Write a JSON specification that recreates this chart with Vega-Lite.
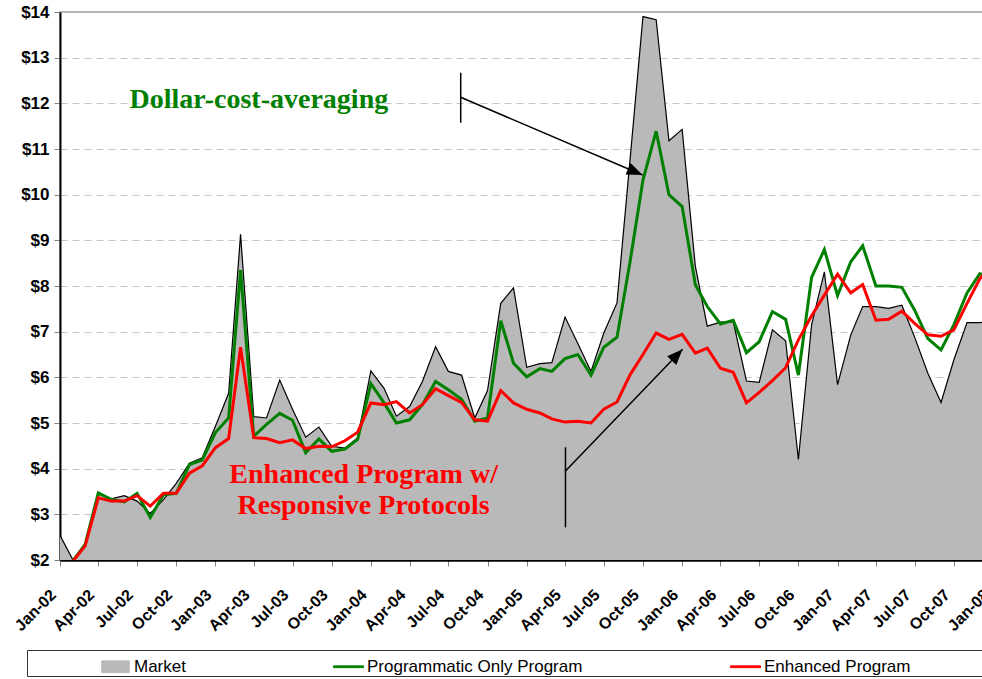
{
  "$schema": "https://vega.github.io/schema/vega-lite/v6.json",
  "width": 933,
  "height": 548,
  "autosize": {"type": "none"},
  "padding": {"left": 60, "top": 12, "right": -11, "bottom": 119},
  "background": "white",
  "config": {
    "view": {"stroke": "#a0a0a0", "strokeWidth": 1.5},
    "axisX": {
      "title": null, "grid": false, "zindex": 1,
      "domainColor": "#000000", "domainWidth": 2.5,
      "tickColor": "#808080", "tickSize": 6, "tickWidth": 1,
      "labelFont": "Liberation Sans", "labelFontSize": 16, "labelFontWeight": "bold", "labelColor": "#000000",
      "labelAngle": -45, "labelAlign": "right", "labelBaseline": "middle",
      "labelPadding": 26, "labelOffset": -7, "labelOverlap": false, "labelFlush": false, "labelBound": false
    },
    "axisY": {
      "title": null, "grid": true, "zindex": 0,
      "gridColor": "#c4c4c4", "gridDash": [7, 5], "gridWidth": 1,
      "domainColor": "#000000", "domainWidth": 2,
      "tickColor": "#808080", "tickSize": 6, "tickWidth": 1,
      "labelFont": "Liberation Sans", "labelFontSize": 17, "labelFontWeight": "bold", "labelColor": "#000000",
      "labelPadding": 5, "labelOverlap": false, "labelFlush": false
    }
  },
  "datasets": {
    "prices": [
      {"date":"2002-01-01","market":2.54,"prog":null,"enh":null},
      {"date":"2002-02-01","market":1.99,"prog":1.99,"enh":1.98},
      {"date":"2002-03-01","market":2.36,"prog":2.34,"enh":2.31},
      {"date":"2002-04-01","market":3.45,"prog":3.47,"enh":3.36},
      {"date":"2002-05-01","market":3.34,"prog":3.33,"enh":3.29},
      {"date":"2002-06-01","market":3.41,"prog":3.27,"enh":3.29},
      {"date":"2002-07-01","market":3.29,"prog":3.46,"enh":3.41},
      {"date":"2002-08-01","market":3.02,"prog":2.93,"enh":3.18},
      {"date":"2002-09-01","market":3.32,"prog":3.43,"enh":3.46},
      {"date":"2002-10-01","market":3.68,"prog":3.46,"enh":3.46},
      {"date":"2002-11-01","market":4.12,"prog":4.09,"enh":3.9},
      {"date":"2002-12-01","market":4.24,"prog":4.19,"enh":4.06},
      {"date":"2003-01-01","market":4.93,"prog":4.79,"enh":4.46},
      {"date":"2003-02-01","market":5.65,"prog":5.11,"enh":4.66},
      {"date":"2003-03-01","market":9.13,"prog":8.35,"enh":6.66},
      {"date":"2003-04-01","market":5.14,"prog":4.71,"enh":4.68},
      {"date":"2003-05-01","market":5.11,"prog":4.97,"enh":4.66},
      {"date":"2003-06-01","market":5.94,"prog":5.21,"enh":4.57},
      {"date":"2003-07-01","market":5.3,"prog":5.06,"enh":4.63},
      {"date":"2003-08-01","market":4.69,"prog":4.35,"enh":4.44},
      {"date":"2003-09-01","market":4.91,"prog":4.65,"enh":4.49},
      {"date":"2003-10-01","market":4.49,"prog":4.38,"enh":4.48},
      {"date":"2003-11-01","market":4.45,"prog":4.43,"enh":4.61},
      {"date":"2003-12-01","market":4.68,"prog":4.64,"enh":4.8},
      {"date":"2004-01-01","market":6.14,"prog":5.86,"enh":5.44},
      {"date":"2004-02-01","market":5.76,"prog":5.44,"enh":5.4},
      {"date":"2004-03-01","market":5.15,"prog":5.0,"enh":5.47},
      {"date":"2004-04-01","market":5.36,"prog":5.07,"enh":5.22},
      {"date":"2004-05-01","market":5.91,"prog":5.4,"enh":5.4},
      {"date":"2004-06-01","market":6.67,"prog":5.91,"enh":5.75},
      {"date":"2004-07-01","market":6.13,"prog":5.73,"enh":5.6},
      {"date":"2004-08-01","market":6.05,"prog":5.52,"enh":5.45},
      {"date":"2004-09-01","market":5.11,"prog":5.04,"enh":5.07},
      {"date":"2004-10-01","market":5.71,"prog":5.11,"enh":5.04},
      {"date":"2004-11-01","market":7.62,"prog":7.24,"enh":5.71},
      {"date":"2004-12-01","market":7.96,"prog":6.31,"enh":5.44},
      {"date":"2005-01-01","market":6.22,"prog":6.01,"enh":5.3},
      {"date":"2005-02-01","market":6.3,"prog":6.19,"enh":5.22},
      {"date":"2005-03-01","market":6.32,"prog":6.13,"enh":5.09},
      {"date":"2005-04-01","market":7.32,"prog":6.41,"enh":5.02},
      {"date":"2005-05-01","market":6.74,"prog":6.5,"enh":5.04},
      {"date":"2005-06-01","market":6.13,"prog":6.05,"enh":5.0},
      {"date":"2005-07-01","market":6.97,"prog":6.66,"enh":5.3},
      {"date":"2005-08-01","market":7.63,"prog":6.88,"enh":5.46},
      {"date":"2005-09-01","market":10.8,"prog":8.55,"enh":6.06},
      {"date":"2005-10-01","market":13.9,"prog":10.32,"enh":6.5},
      {"date":"2005-11-01","market":13.83,"prog":11.39,"enh":6.97},
      {"date":"2005-12-01","market":11.18,"prog":10.0,"enh":6.83},
      {"date":"2006-01-01","market":11.43,"prog":9.74,"enh":6.94},
      {"date":"2006-02-01","market":8.43,"prog":8.03,"enh":6.53},
      {"date":"2006-03-01","market":7.12,"prog":7.55,"enh":6.64},
      {"date":"2006-04-01","market":7.21,"prog":7.17,"enh":6.2},
      {"date":"2006-05-01","market":7.22,"prog":7.25,"enh":6.11},
      {"date":"2006-06-01","market":5.92,"prog":6.54,"enh":5.44},
      {"date":"2006-07-01","market":5.89,"prog":6.78,"enh":5.67},
      {"date":"2006-08-01","market":7.04,"prog":7.44,"enh":5.93},
      {"date":"2006-09-01","market":6.8,"prog":7.27,"enh":6.21},
      {"date":"2006-10-01","market":4.2,"prog":6.05,"enh":6.82},
      {"date":"2006-11-01","market":7.15,"prog":8.19,"enh":7.35},
      {"date":"2006-12-01","market":8.31,"prog":8.8,"enh":7.8},
      {"date":"2007-01-01","market":5.84,"prog":7.79,"enh":8.26},
      {"date":"2007-02-01","market":6.93,"prog":8.53,"enh":7.85},
      {"date":"2007-03-01","market":7.55,"prog":8.88,"enh":8.03},
      {"date":"2007-04-01","market":7.55,"prog":8.0,"enh":7.25},
      {"date":"2007-05-01","market":7.51,"prog":8.0,"enh":7.27},
      {"date":"2007-06-01","market":7.58,"prog":7.97,"enh":7.45},
      {"date":"2007-07-01","market":6.88,"prog":7.47,"enh":7.18},
      {"date":"2007-08-01","market":6.09,"prog":6.85,"enh":6.93},
      {"date":"2007-09-01","market":5.45,"prog":6.6,"enh":6.9},
      {"date":"2007-10-01","market":6.38,"prog":7.15,"enh":7.04},
      {"date":"2007-11-01","market":7.2,"prog":7.85,"enh":7.62},
      {"date":"2007-12-01","market":7.2,"prog":8.27,"enh":8.16},
      {"date":"2008-01-01","market":7.22,"prog":8.2,"enh":8.45}
    ],
    "rules": [
      {"x":"2004-07-30","y":12.671,"x2":"2004-07-30","y2":11.576},
      {"x":"2004-07-30","y":12.132,"x2":"2005-09-30","y2":10.431},
      {"x":"2005-04-02","y":4.468,"x2":"2005-04-02","y2":2.716},
      {"x":"2005-04-02","y":3.949,"x2":"2006-01-02","y2":6.614}
    ],
    "head1": [{"x":"2005-09-30","y":10.431}],
    "head2": [{"x":"2006-01-02","y":6.614}],
    "greenText": [{"x":"2003-04-13","y":11.891,"label":"Dollar-cost-averaging"}],
    "redText": [
      {"x":"2003-12-15","y":3.693,"label":"Enhanced Program w/"},
      {"x":"2003-12-15","y":3.007,"label":"Responsive Protocols"}
    ]
  },
  "layer": [
    {
      "data": {"name": "prices"},
      "mark": {"type": "area", "clip": true, "interpolate": "linear"},
      "encoding": {
        "x": {"field": "date", "type": "temporal", "title": null,
          "scale": {"type": "utc", "domain": [{"year": 2002, "month": 1, "date": 1, "utc": true}, {"year": 2008, "month": 1, "date": 1, "utc": true}], "nice": false},
          "axis": {"labelExpr": "utcFormat(datum.value, '%b-%y')", "tickCount": {"interval": "month", "step": 3}}},
        "y": {"field": "market", "type": "quantitative", "title": null,
          "scale": {"domain": [2, 14], "nice": false, "zero": false},
          "axis": {"values": [2,3,4,5,6,7,8,9,10,11,12,13,14], "format": "$.0f",
            "gridOpacity": {"condition": {"test": "datum.value === 14 || datum.value === 2", "value": 0}, "value": 1}}},
        "color": {"datum": "Market", "type": "nominal",
          "scale": {"domain": ["Market", "Programmatic Only Program", "Enhanced Program"], "range": ["#b9b9b9", "#008000", "#ff0000"]},
          "legend": {
            "orient": "none", "legendX": -33, "legendY": 638, "direction": "horizontal",
            "title": ".", "titleOrient": "right", "titlePadding": 70, "titleColor": "#ffffff", "titleFontSize": 10,
            "strokeColor": "#333333", "padding": 1,
            "symbolSize": 900, "symbolOffset": 72, "labelOffset": 3, "columnPadding": 75,
            "labelFont": "Liberation Sans", "labelFontSize": 17, "labelColor": "#000000", "labelLimit": 400,
            "encode": {"symbols": {"update": {
              "shape": {"signal": "datum.value === 'Market' ? 'M-0.92,-0.39H0.92V0.39H-0.92Z' : 'M-1,-0.06H1V0.06H-1Z'"},
              "fill": {"signal": "datum.value === 'Market' ? '#b9b9b9' : (datum.value === 'Enhanced Program' ? '#ff0000' : '#008000')"},
              "stroke": {"signal": "datum.value === 'Market' ? '#000000' : (datum.value === 'Enhanced Program' ? '#ff0000' : '#008000')"},
              "strokeWidth": {"value": 1},
              "size": {"value": 900},
              "opacity": {"value": 1}
            }}}
          }}
      }
    },
    {
      "data": {"name": "prices"},
      "mark": {"type": "line", "clip": true, "color": "#000000", "strokeWidth": 1.2},
      "encoding": {
        "x": {"field": "date", "type": "temporal", "title": null, "scale": {"type": "utc"}},
        "y": {"field": "market", "type": "quantitative", "title": null}
      }
    },
    {
      "data": {"name": "prices"},
      "mark": {"type": "line", "clip": true, "strokeWidth": 3},
      "encoding": {
        "x": {"field": "date", "type": "temporal", "title": null, "scale": {"type": "utc"}},
        "y": {"field": "prog", "type": "quantitative", "title": null},
        "color": {"datum": "Programmatic Only Program", "type": "nominal"}
      }
    },
    {
      "data": {"name": "prices"},
      "mark": {"type": "line", "clip": true, "strokeWidth": 3},
      "encoding": {
        "x": {"field": "date", "type": "temporal", "title": null, "scale": {"type": "utc"}},
        "y": {"field": "enh", "type": "quantitative", "title": null},
        "color": {"datum": "Enhanced Program", "type": "nominal"}
      }
    },
    {
      "data": {"name": "rules"},
      "mark": {"type": "rule", "color": "#000000", "strokeWidth": 1.5},
      "encoding": {
        "x": {"field": "x", "type": "temporal", "title": null, "scale": {"type": "utc"}},
        "x2": {"field": "x2"},
        "y": {"field": "y", "type": "quantitative", "title": null},
        "y2": {"field": "y2"}
      }
    },
    {
      "data": {"name": "head1"},
      "mark": {"type": "point", "filled": true, "color": "#000000", "opacity": 1, "strokeWidth": 0, "shape": "M0,0L-2,-0.8L-2,0.8Z", "size": 246, "angle": 23.1},
      "encoding": {
        "x": {"field": "x", "type": "temporal", "title": null, "scale": {"type": "utc"}},
        "y": {"field": "y", "type": "quantitative", "title": null}
      }
    },
    {
      "data": {"name": "head2"},
      "mark": {"type": "point", "filled": true, "color": "#000000", "opacity": 1, "strokeWidth": 0, "shape": "M0,0L-2,-0.8L-2,0.8Z", "size": 246, "angle": 313.8},
      "encoding": {
        "x": {"field": "x", "type": "temporal", "title": null, "scale": {"type": "utc"}},
        "y": {"field": "y", "type": "quantitative", "title": null}
      }
    },
    {
      "data": {"name": "greenText"},
      "mark": {"type": "text", "font": "Liberation Serif", "fontWeight": "bold", "fontSize": 28, "align": "center", "baseline": "alphabetic", "color": "#008000"},
      "encoding": {
        "x": {"field": "x", "type": "temporal", "title": null, "scale": {"type": "utc"}},
        "y": {"field": "y", "type": "quantitative", "title": null},
        "text": {"field": "label"}
      }
    },
    {
      "data": {"name": "redText"},
      "mark": {"type": "text", "font": "Liberation Serif", "fontWeight": "bold", "fontSize": 28, "align": "center", "baseline": "alphabetic", "color": "#ff0000"},
      "encoding": {
        "x": {"field": "x", "type": "temporal", "title": null, "scale": {"type": "utc"}},
        "y": {"field": "y", "type": "quantitative", "title": null},
        "text": {"field": "label"}
      }
    }
  ]
}
